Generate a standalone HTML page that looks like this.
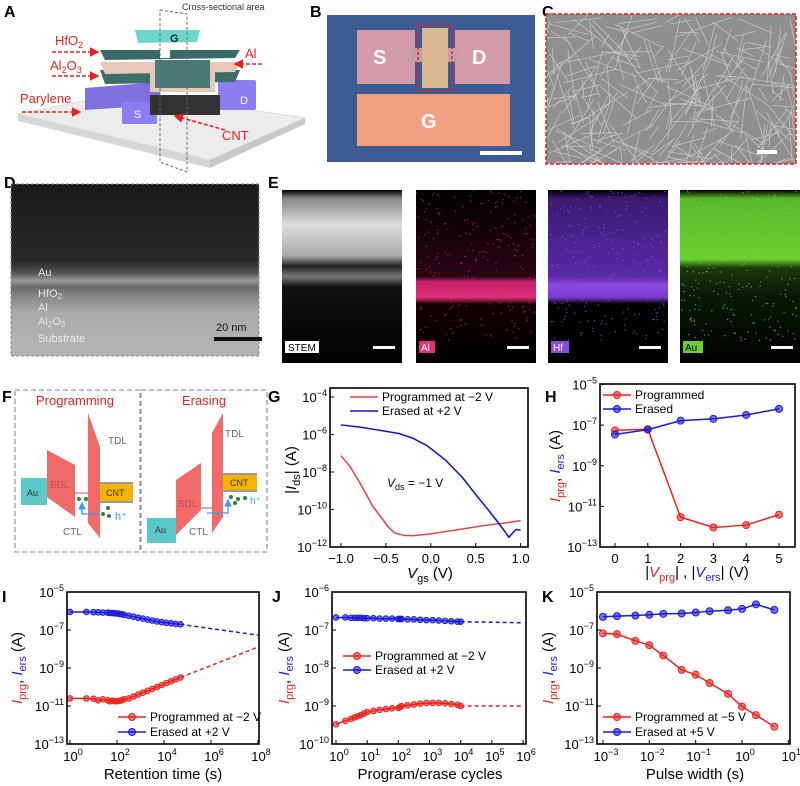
<!DOCTYPE html>
<html><head><meta charset="utf-8">
<style>
html,body{margin:0;padding:0;background:#fff;}
svg{display:block;font-family:"Liberation Sans",Arial,sans-serif;}
</style></head>
<body>
<svg id="fig" width="800" height="786" viewBox="0 0 800 786" xmlns="http://www.w3.org/2000/svg">
<defs>
<marker id="ar" markerWidth="6" markerHeight="6" refX="5" refY="3" orient="auto"><path d="M0,0 L6,3 L0,6 z" fill="#e8231f"/></marker>
<marker id="ab" markerWidth="6" markerHeight="6" refX="5" refY="3" orient="auto"><path d="M0,0 L6,3 L0,6 z" fill="#3aa0e0"/></marker>
<linearGradient id="temg" x1="0" y1="0" x2="0" y2="1">
<stop offset="0" stop-color="#1a1a1a"/><stop offset="0.45" stop-color="#2a2a2a"/><stop offset="0.52" stop-color="#555"/>
<stop offset="0.56" stop-color="#9a9a9a"/><stop offset="0.6" stop-color="#6a6a6a"/><stop offset="0.66" stop-color="#8a8a8a"/>
<stop offset="0.75" stop-color="#aaa"/><stop offset="1" stop-color="#b5b5b5"/></linearGradient>
<linearGradient id="stemg" x1="0" y1="0" x2="0" y2="1">
<stop offset="0" stop-color="#000"/><stop offset="0.05" stop-color="#888"/><stop offset="0.2" stop-color="#ddd"/><stop offset="0.38" stop-color="#aaa"/>
<stop offset="0.44" stop-color="#222"/><stop offset="0.5" stop-color="#777"/><stop offset="0.56" stop-color="#111"/><stop offset="1" stop-color="#000"/></linearGradient>
<linearGradient id="hfg" x1="0" y1="0" x2="0" y2="1">
<stop offset="0" stop-color="#000"/><stop offset="0.05" stop-color="#3a1a70"/><stop offset="0.5" stop-color="#5a2aa8"/><stop offset="0.55" stop-color="#8a4ae0"/><stop offset="0.62" stop-color="#7a3ad0"/><stop offset="0.66" stop-color="#000"/><stop offset="1" stop-color="#000"/></linearGradient>
<linearGradient id="aug" x1="0" y1="0" x2="0" y2="1">
<stop offset="0" stop-color="#000"/><stop offset="0.05" stop-color="#5ab82a"/><stop offset="0.4" stop-color="#6ad030"/><stop offset="0.45" stop-color="#1a3a0a"/><stop offset="0.6" stop-color="#0a1a05"/><stop offset="1" stop-color="#000"/></linearGradient>
<linearGradient id="alg" x1="0" y1="0" x2="0" y2="1">
<stop offset="0" stop-color="#000"/><stop offset="0.5" stop-color="#2a0515"/><stop offset="0.53" stop-color="#c02068"/><stop offset="0.62" stop-color="#e0307a"/><stop offset="0.66" stop-color="#100"/><stop offset="1" stop-color="#000"/></linearGradient>
</defs>

<!-- Panel A -->
<g>
<text x="4" y="17" font-size="16" font-weight="bold">A</text>
<text x="182" y="10" font-size="9" fill="#333">Cross-sectional area</text>
<polygon points="18,114 130,92 305,118 210,160" fill="#ececec" stroke="#ddd"/>
<polygon points="18,114 210,160 210,168 18,121" fill="#d6d6d6"/>
<polygon points="210,160 305,118 305,124 210,168" fill="#c8c8c8"/>
<polygon points="85,88 160,82 160,105 85,110" fill="#7f72e0"/>
<rect x="122" y="102" width="35" height="22" fill="#8a7ef0" rx="2"/>
<text x="134" y="118" font-size="11" fill="#fff">S</text>
<rect x="218" y="80" width="38" height="30" fill="#8a7ef0" rx="2"/>
<text x="240" y="104" font-size="11" fill="#fff">D</text>
<rect x="150" y="95" width="70" height="20" fill="#333"/>
<polygon points="100,70 240,70 235,82 105,84" fill="#3d6e6a"/>
<polygon points="100,62 240,62 235,72 105,74" fill="#e8c8b8"/>
<polygon points="150,62 215,62 215,92 150,92" fill="#e8c8b8"/>
<polygon points="155,60 210,60 210,88 155,88" fill="#4a7a76"/>
<polygon points="100,50 240,50 235,58 105,60" fill="#3a6a66"/>
<rect x="160" y="38" width="10" height="20" fill="#fff"/>
<polygon points="135,30 200,30 197,42 138,43" fill="#6ed6c8"/>
<text x="170" y="42" font-size="11" font-weight="bold" fill="#123">G</text>
<polyline points="160,10 187,14 187,172 160,162 160,10" fill="none" stroke="#666" stroke-dasharray="3,2"/>
<g fill="#e8231f" font-size="13">
<text x="55" y="45">HfO<tspan font-size="9" dy="3">2</tspan></text>
<text x="50" y="70">Al<tspan font-size="9" dy="3">2</tspan><tspan dy="-3">O</tspan><tspan font-size="9" dy="3">3</tspan></text>
<text x="20" y="103">Parylene</text>
<text x="245" y="58">Al</text>
<text x="222" y="140">CNT</text>
</g>
<g stroke="#e8231f" stroke-width="1.6" stroke-dasharray="4,2" marker-end="url(#ar)">
<line x1="52" y1="52" x2="98" y2="52"/><line x1="52" y1="76" x2="98" y2="76"/>
<line x1="22" y1="112" x2="80" y2="112"/><line x1="262" y1="64" x2="235" y2="64"/>
<line x1="225" y1="130" x2="175" y2="116"/></g>
</g>

<!-- Panel B -->
<g>
<text x="310" y="17" font-size="16" font-weight="bold">B</text>
<rect x="327" y="15" width="208" height="147" fill="#3e5c94"/>
<rect x="357" y="30" width="58" height="54" fill="#d39aa8"/>
<rect x="455" y="30" width="55" height="54" fill="#d39aa8"/>
<rect x="412" y="48" width="12" height="14" fill="#c99aa8"/>
<rect x="446" y="48" width="12" height="14" fill="#c99aa8"/>
<rect x="422" y="28" width="26" height="60" fill="#d8b890"/>
<rect x="418" y="25" width="34" height="66" fill="none" stroke="#e8231f" stroke-dasharray="3,2" stroke-width="1.5"/>
<rect x="357" y="94" width="153" height="52" fill="#f0a080"/>
<text x="373" y="64" font-size="20" font-weight="bold" fill="#fff">S</text>
<text x="472" y="64" font-size="20" font-weight="bold" fill="#fff">D</text>
<text x="421" y="128" font-size="20" font-weight="bold" fill="#fff">G</text>
<rect x="480" y="151" width="42" height="4" fill="#fff"/>
</g>

<!-- Panel C -->
<g>
<text x="542" y="17" font-size="16" font-weight="bold">C</text>
<rect x="546" y="14" width="250" height="150" fill="#8f8f8f"/>
<g id="cnts" stroke="#d8d8d8" stroke-width="0.7" opacity="0.8"></g>
<rect x="546" y="14" width="250" height="150" fill="none" stroke="#e8231f" stroke-width="1.5" stroke-dasharray="4,2"/>
<rect x="757" y="150" width="20" height="4" fill="#fff"/>
</g>

<!-- Panel D -->
<g>
<text x="4" y="188" font-size="16" font-weight="bold">D</text>
<rect x="11" y="184" width="248" height="172" fill="url(#temg)" stroke="#888" stroke-dasharray="3,2"/>
<g fill="#e6e6e6" font-size="11">
<text x="38" y="276">Au</text>
<text x="38" y="297">HfO<tspan font-size="8" dy="2">2</tspan></text>
<text x="38" y="311">Al</text>
<text x="38" y="325">Al<tspan font-size="8" dy="2">2</tspan><tspan dy="-2">O</tspan><tspan font-size="8" dy="2">3</tspan></text>
<text x="38" y="342" fill="#f0f0f0">Substrate</text></g>
<text x="216" y="331" font-size="11" fill="#111">20 nm</text>
<rect x="214" y="337" width="48" height="4" fill="#111"/>
</g>

<!-- Panel E -->
<g>
<text x="268" y="188" font-size="16" font-weight="bold">E</text>
<rect x="282" y="190" width="120" height="173" fill="url(#stemg)"/>
<rect x="416" y="190" width="120" height="173" fill="url(#alg)"/>
<rect x="548" y="190" width="120" height="173" fill="url(#hfg)"/>
<rect x="680" y="190" width="120" height="173" fill="url(#aug)"/>
<g id="dots"></g>
<rect x="285" y="341" width="34" height="12" fill="#fff"/><text x="288" y="351" font-size="10">STEM</text>
<rect x="419" y="341" width="16" height="12" fill="#e0307a"/><text x="421" y="351" font-size="10" fill="#fff">Al</text>
<rect x="551" y="341" width="18" height="12" fill="#8a4ae0"/><text x="553" y="351" font-size="10" fill="#fff">Hf</text>
<rect x="683" y="341" width="20" height="12" fill="#6ad030"/><text x="685" y="351" font-size="10" fill="#000">Au</text>
<g fill="#fff"><rect x="373" y="346" width="22" height="3"/><rect x="507" y="346" width="22" height="3"/><rect x="639" y="346" width="22" height="3"/><rect x="771" y="346" width="22" height="3"/></g>
</g>

<!-- Panel F -->
<g>
<text x="2" y="402" font-size="16" font-weight="bold">F</text>
<rect x="15" y="390" width="125" height="162" fill="none" stroke="#999" stroke-dasharray="5,3" stroke-width="1.3"/>
<rect x="141" y="390" width="126" height="162" fill="none" stroke="#999" stroke-dasharray="5,3" stroke-width="1.3"/>
<text x="36" y="405" font-size="13" fill="#e8231f">Programming</text>
<text x="182" y="405" font-size="13" fill="#e8231f">Erasing</text>
<rect x="21" y="478" width="26" height="27" fill="#5ac8c8"/><text x="27" y="496" font-size="9" fill="#333">Au</text>
<polygon points="47,450 75,465 75,517 47,497" fill="#f06a6a"/><text x="50" y="488" font-size="10" fill="#c05050">BDL</text>
<polygon points="88,413 100,447 100,538 88,523" fill="#f06a6a"/>
<line x1="75" y1="493" x2="88" y2="493" stroke="#f0a0c0" stroke-width="2"/>
<rect x="100" y="482" width="33" height="21" fill="#f5b400"/><rect x="100" y="482" width="33" height="2" fill="#999"/><rect x="100" y="501" width="33" height="2" fill="#999"/>
<text x="106" y="496" font-size="9" fill="#333">CNT</text>
<text x="108" y="444" font-size="10" fill="#666">TDL</text><text x="63" y="535" font-size="10" fill="#666">CTL</text>
<g fill="#3a7a3a"><circle cx="79" cy="499" r="2"/><circle cx="86" cy="499" r="2"/><circle cx="108" cy="508" r="2"/><circle cx="103" cy="514" r="2"/><circle cx="109" cy="516" r="2"/></g>
<polyline points="100,514 82,514 82,503" fill="none" stroke="#3aa0e0" stroke-width="1.3" marker-end="url(#ab)"/>
<text x="115" y="520" font-size="11" fill="#3aa0e0">h⁺</text>
<rect x="147" y="518" width="29" height="25" fill="#5ac8c8"/><text x="155" y="533" font-size="9" fill="#333">Au</text>
<polygon points="176,480 201,463 201,510 176,535" fill="#f06a6a"/><text x="178" y="507" font-size="10" fill="#c05050">BDL</text>
<polygon points="212,433 223,413 223,517 212,533" fill="#f06a6a"/>
<line x1="201" y1="508" x2="212" y2="508" stroke="#f0a0c0" stroke-width="2"/>
<rect x="223" y="473" width="34" height="19" fill="#f5b400"/><rect x="223" y="473" width="34" height="2" fill="#999"/><rect x="223" y="490" width="34" height="2" fill="#999"/>
<text x="230" y="486" font-size="9" fill="#333">CNT</text>
<text x="225" y="437" font-size="10" fill="#666">TDL</text><text x="189" y="535" font-size="10" fill="#666">CTL</text>
<g fill="#3a7a3a"><circle cx="231" cy="497" r="2"/><circle cx="238" cy="499" r="2"/><circle cx="245" cy="498" r="2"/><circle cx="235" cy="503" r="2"/></g>
<polyline points="207,513 228,513 228,500" fill="none" stroke="#3aa0e0" stroke-width="1.3" marker-end="url(#ab)"/>
<text x="250" y="504" font-size="10" fill="#3aa0e0">h⁺</text>
</g>

<g id="charts"></g>
</svg>

<script>
// ---------- Chart data ----------
// G: transfer curves (Vgs in V, log10 |Ids|)
const gPrgV = [-1,-0.9,-0.8,-0.74,-0.65,-0.54,-0.47,-0.4,-0.3,-0.2,0,0.2,0.43,0.6,0.81,1.0];
const gPrgLog = [-7.13,-7.7,-8.5,-9.0,-9.8,-10.5,-10.95,-11.25,-11.38,-11.4,-11.3,-11.15,-10.98,-10.85,-10.73,-10.6];
const gErsV = [-1,-0.8,-0.6,-0.35,-0.2,-0.04,0.16,0.35,0.5,0.66,0.78,0.87,0.92,0.95,1.0];
const gErsLog = [-5.49,-5.6,-5.75,-5.95,-6.2,-6.6,-7.35,-8.28,-9.2,-10.14,-10.88,-11.48,-11.2,-11.07,-11.1];
const gXTicks = [-1.0,-0.5,0.0,0.5,1.0];
const gXTickLabels = ["\u22121.0","\u22120.5","0.0","0.5","1.0"];
const gYTicks = [-4,-6,-8,-10,-12];
// H: voltage dependence
const hV = [0,1,2,3,4,5];
const hPrgLog = [-7.26,-7.2,-11.53,-12.04,-11.92,-11.41];
const hErsLog = [-7.46,-7.22,-6.78,-6.69,-6.5,-6.2];
const hYTicks = [-5,-7,-9,-11,-13];
// I: retention
const iLogT = [0,0.7,1.0,1.2,1.4,1.6,1.7,1.8,1.9,2.0,2.1,2.2,2.3,2.5,2.7,2.9,3.1,3.3,3.5,3.7,3.9,4.1,4.3,4.5,4.7];
const iErsLog = [-6.05,-6.05,-6.06,-6.07,-6.08,-6.09,-6.1,-6.11,-6.12,-6.13,-6.15,-6.17,-6.2,-6.25,-6.3,-6.35,-6.4,-6.45,-6.5,-6.55,-6.59,-6.62,-6.65,-6.68,-6.7];
const iPrgLog = [-10.6,-10.6,-10.62,-10.7,-10.65,-10.7,-10.75,-10.72,-10.75,-10.75,-10.73,-10.7,-10.65,-10.6,-10.5,-10.4,-10.3,-10.2,-10.1,-10.0,-9.9,-9.8,-9.7,-9.6,-9.5];
const iExtrapT = [4.7,8];
const iErsExtrap = [-6.7,-7.27];
const iPrgExtrap = [-9.5,-7.9];
const iXTicks = [0,2,4,6,8];
const iYTicks = [-5,-7,-9,-11,-13];
// J: endurance
const jLogN = [0,0.3,0.48,0.6,0.7,0.8,0.9,1,1.2,1.4,1.6,1.8,2,2.05,2.1,2.3,2.5,2.7,2.9,3.1,3.3,3.5,3.7,3.9,4];
const jPrgLog = [-9.48,-9.39,-9.34,-9.3,-9.27,-9.24,-9.2,-9.16,-9.13,-9.1,-9.08,-9.06,-9.05,-9.03,-9.0,-8.98,-8.96,-8.94,-8.92,-8.92,-8.92,-8.93,-8.95,-8.97,-9.0];
const jErsLog = [-6.67,-6.67,-6.68,-6.68,-6.68,-6.68,-6.69,-6.69,-6.69,-6.7,-6.7,-6.7,-6.71,-6.71,-6.71,-6.72,-6.72,-6.73,-6.74,-6.74,-6.75,-6.76,-6.77,-6.78,-6.78];
const jExtrapN = [4,6];
const jErsExtrap = [-6.78,-6.81];
const jPrgExtrap = [-9.0,-9.0];
const jXTicks = [0,1,2,3,4,5,6];
const jYTicks = [-6,-7,-8,-9,-10];
// K: pulse width
const kLogW = [-3,-2.699,-2.301,-2,-1.699,-1.301,-1,-0.699,-0.301,0,0.301,0.699];
const kErsLog = [-6.31,-6.27,-6.24,-6.2,-6.15,-6.13,-6.08,-6.01,-5.96,-5.89,-5.65,-5.94];
const kPrgLog = [-7.18,-7.22,-7.57,-7.8,-8.34,-9.1,-9.35,-9.79,-10.36,-11.03,-11.48,-12.09];
const kXTicks = [-3,-2,-1,0,1];
const kYTicks = [-5,-7,-9,-11,-13];

const NS = "http://www.w3.org/2000/svg";
const root = document.getElementById('charts');
const RED = "#e8231f", BLUE = "#1a1ad8";
function mk(tag, attrs, parent){ const e=document.createElementNS(NS,tag); for(const k in attrs) e.setAttribute(k,attrs[k]); (parent||root).appendChild(e); return e; }
function scale(d0,d1,r0,r1){ return v => r0 + (v-d0)/(d1-d0)*(r1-r0); }
function supLabel(g, x, y, exp, anchor){
  const t = mk('text',{x:x,y:y,'font-size':13,'text-anchor':anchor},g);
  
  
  t.appendChild(document.createTextNode('10'));
  const s = mk('tspan',{'font-size':9,dy:-6},t);
  s.textContent = exp < 0 ? '\u2212'+(-exp) : String(exp);
  return t;
}
function frame(g, b){
  const r = mk('rect',{x:b.x0,y:b.y0,width:b.x1-b.x0,height:b.y1-b.y0,fill:'none',stroke:'#000','stroke-width':1.6},g);
  
  
}
function line(g, xs, ys, sx, sy, color, dash, name){
  const p = mk('polyline',{points:xs.map((x,i)=>sx(x)+','+sy(ys[i])).join(' '),fill:'none',stroke:color,'stroke-width':1.5},g);
  if(dash) p.setAttribute('stroke-dasharray',dash);
  
  
}
function markers(g, xs, ys, sx, sy, color, r, name){
  xs.forEach((x,i)=>{
    const c = mk('circle',{cx:sx(x),cy:sy(ys[i]),r:r,fill:color,stroke:color,'fill-opacity':0.6},g);
    
    
  });
}
function yLogTicks(g, b, sy, ticks){
  ticks.forEach(v=>{
    mk('line',{x1:b.x0,x2:b.x0+4,y1:sy(v),y2:sy(v),stroke:'#000'},g);
    supLabel(g, b.x0-3, sy(v)+5, v, 'end');
  });
}
function xLogTicks(g, b, sx, ticks){
  ticks.forEach(v=>{
    mk('line',{x1:sx(v),x2:sx(v),y1:b.y1,y2:b.y1-4,stroke:'#000'},g);
    supLabel(g, sx(v)+3, b.y1+17, v, 'middle');
  });
}
function ylabel(g, x, y, extra){
  const t = mk('text',{x:x,y:y,'font-size':15,'text-anchor':'middle',transform:'rotate(-90 '+x+' '+y+')'},g);
  
  
  if(extra){ t.innerHTML = extra; }
  return t;
}
const IPI = '<tspan fill="'+RED+'" font-style="italic">I</tspan><tspan fill="'+RED+'" font-size="11" dy="4">prg</tspan><tspan dy="-4">, </tspan><tspan fill="'+BLUE+'" font-style="italic">I</tspan><tspan fill="'+BLUE+'" font-size="11" dy="4">ers</tspan><tspan dy="-4"> (A)</tspan>';
function legend(g, x, y, color, label, withMarker){
  mk('line',{x1:x,x2:x+28,y1:y,y2:y,stroke:color,'stroke-width':1.5},g);
  if(withMarker){ mk('circle',{cx:x+14,cy:y,r:3.5,fill:color,'fill-opacity':0.6,stroke:color},g); }
  const t = mk('text',{x:x+32,y:y+4,'font-size':12},g);
  t.textContent = label;
  
  
}
function panelLetter(g,x,y,l){ const t=mk('text',{x:x,y:y,'font-size':16,'font-weight':'bold'},g); t.textContent=l;   }

// ----- G -----
(function(){
  const g = mk('g',{});
  
  
  const b={x0:330,x1:528,y0:388,y1:547};
  const sx=scale(-1,1,341,520.6), sy=scale(-4,-12,397,547);
  panelLetter(g,268,402,'G');
  line(g,gPrgV,gPrgLog,sx,sy,"#e84040",null,'programmed-curve');
  line(g,gErsV,gErsLog,sx,sy,"#1010c8",null,'erased-curve');
  frame(g,b);
  yLogTicks(g,b,sy,gYTicks);
  gXTicks.forEach((v,i)=>{ mk('line',{x1:sx(v),x2:sx(v),y1:b.y1,y2:b.y1-4,stroke:'#000'},g);
    const t=mk('text',{x:sx(v),y:b.y1+16,'font-size':13,'text-anchor':'middle'},g); t.textContent=gXTickLabels[i];
      });
  legend(g,350,397,"#e84040","Programmed at \u22122 V",false);
  legend(g,350,411,"#1010c8","Erased at +2 V",false);
  const a=mk('text',{x:387,y:487,'font-size':12},g); a.innerHTML='<tspan font-style="italic">V</tspan><tspan font-size="9" dy="3">ds</tspan><tspan dy="-3"> = \u22121 V</tspan>';
  const yl=ylabel(g,296,470); yl.innerHTML='|<tspan font-style="italic">I</tspan><tspan font-size="11" dy="4">ds</tspan><tspan dy="-4">| (A)</tspan>';
  const xl=mk('text',{x:430,y:578,'font-size':15,'text-anchor':'middle'},g); xl.innerHTML='<tspan font-style="italic">V</tspan><tspan font-size="11" dy="4">gs</tspan><tspan dy="-4"> (V)</tspan>';
   
})();

// ----- H -----
(function(){
  const g = mk('g',{});
  
  
  const b={x0:600,x1:795,y0:384,y1:547};
  const sx=scale(0,5,615,779), sy=scale(-5,-13,384.5,547);
  panelLetter(g,545,402,'H');
  line(g,hV,hPrgLog,sx,sy,RED,null,'programmed-line'); markers(g,hV,hPrgLog,sx,sy,RED,3.5,'programmed-point');
  line(g,hV,hErsLog,sx,sy,BLUE,null,'erased-line'); markers(g,hV,hErsLog,sx,sy,BLUE,3.5,'erased-point');
  frame(g,b);
  yLogTicks(g,b,sy,hYTicks);
  hV.forEach(v=>{ mk('line',{x1:sx(v),x2:sx(v),y1:b.y1,y2:b.y1-4,stroke:'#000'},g);
    const t=mk('text',{x:sx(v),y:b.y1+16,'font-size':13,'text-anchor':'middle'},g); t.textContent=String(v);
      });
  legend(g,603,395,RED,"Programmed",true);
  legend(g,603,409,BLUE,"Erased",true);
  ylabel(g,560,466,IPI);
  const xl=mk('text',{x:697,y:577,'font-size':15,'text-anchor':'middle'},g);
  xl.innerHTML='|<tspan fill="'+RED+'" font-style="italic">V</tspan><tspan fill="'+RED+'" font-size="11" dy="4">prg</tspan><tspan dy="-4">| , |</tspan><tspan fill="'+BLUE+'" font-style="italic">V</tspan><tspan fill="'+BLUE+'" font-size="11" dy="4">ers</tspan><tspan dy="-4">| (V)</tspan>';
   
})();

// ----- I -----
(function(){
  const g = mk('g',{});
  
  
  const b={x0:67,x1:259,y0:592,y1:744};
  const sx=scale(0,8,70,258), sy=scale(-5,-13,592,744);
  panelLetter(g,2,602,'I');
  line(g,iExtrapT,iErsExtrap,sx,sy,BLUE,'4,3','erased-extrapolation');
  line(g,iExtrapT,iPrgExtrap,sx,sy,RED,'4,3','programmed-extrapolation');
  line(g,iLogT,iErsLog,sx,sy,BLUE,null,'erased-line'); markers(g,iLogT,iErsLog,sx,sy,BLUE,2.8,'erased-point');
  line(g,iLogT,iPrgLog,sx,sy,RED,null,'programmed-line'); markers(g,iLogT,iPrgLog,sx,sy,RED,2.8,'programmed-point');
  frame(g,b);
  yLogTicks(g,b,sy,iYTicks); xLogTicks(g,b,sx,iXTicks);
  legend(g,118,717,RED,"Programmed at \u22122 V",true);
  legend(g,118,732,BLUE,"Erased at +2 V",true);
  ylabel(g,22,668,IPI);
  const xl=mk('text',{x:163,y:779,'font-size':15,'text-anchor':'middle'},g); xl.textContent='Retention time (s)';
   
})();

// ----- J -----
(function(){
  const g = mk('g',{});
  
  
  const b={x0:332,x1:526,y0:592,y1:744};
  const sx=scale(0,6,336,523), sy=scale(-6,-10,592,744);
  panelLetter(g,272,602,'J');
  line(g,jExtrapN,jErsExtrap,sx,sy,BLUE,'4,3','erased-extrapolation');
  line(g,jExtrapN,jPrgExtrap,sx,sy,RED,'4,3','programmed-extrapolation');
  line(g,jLogN,jErsLog,sx,sy,BLUE,null,'erased-line'); markers(g,jLogN,jErsLog,sx,sy,BLUE,2.8,'erased-point');
  line(g,jLogN,jPrgLog,sx,sy,RED,null,'programmed-line'); markers(g,jLogN,jPrgLog,sx,sy,RED,2.8,'programmed-point');
  frame(g,b);
  yLogTicks(g,b,sy,jYTicks); xLogTicks(g,b,sx,jXTicks);
  legend(g,343,656,RED,"Programmed at \u22122 V",true);
  legend(g,343,670,BLUE,"Erased at +2 V",true);
  ylabel(g,289,668,IPI);
  const xl=mk('text',{x:430,y:779,'font-size':15,'text-anchor':'middle'},g); xl.textContent='Program/erase cycles';
   
})();

// ----- K -----
(function(){
  const g = mk('g',{});
  
  
  const b={x0:597,x1:790,y0:592,y1:744};
  const sx=scale(-3,0,603,742), sy=scale(-5,-13,592,744);
  panelLetter(g,542,602,'K');
  line(g,kLogW,kErsLog,sx,sy,BLUE,null,'erased-line'); markers(g,kLogW,kErsLog,sx,sy,BLUE,3.5,'erased-point');
  line(g,kLogW,kPrgLog,sx,sy,RED,null,'programmed-line'); markers(g,kLogW,kPrgLog,sx,sy,RED,3.5,'programmed-point');
  frame(g,b);
  yLogTicks(g,b,sy,kYTicks); xLogTicks(g,b,sx,kXTicks);
  legend(g,603,717,RED,"Programmed at \u22125 V",true);
  legend(g,603,732,BLUE,"Erased at +5 V",true);
  ylabel(g,553,668,IPI);
  const xl=mk('text',{x:695,y:779,'font-size':15,'text-anchor':'middle'},g); xl.textContent='Pulse width (s)';
   
})();

// ----- decorative textures (not chart data) -----
(function(){
  let s = 12345; const rnd=()=>{ s=(s*1103515245+12345)%2147483648; return s/2147483648; };
  const cg=document.getElementById('cnts');
  for(let i=0;i<260;i++){
    const x=546+rnd()*250, y=14+rnd()*150, a=rnd()*Math.PI, L=15+rnd()*45;
    const l=document.createElementNS(NS,'line');
    l.setAttribute('x1',Math.max(546,Math.min(796,x))); l.setAttribute('y1',Math.max(14,Math.min(164,y)));
    l.setAttribute('x2',Math.max(546,Math.min(796,x+Math.cos(a)*L))); l.setAttribute('y2',Math.max(14,Math.min(164,y+Math.sin(a)*L)));
    cg.appendChild(l);
  }
  const dg=document.getElementById('dots');
  const tiles=[[416,'#e0307a',200,283,0.15],[548,'#9a5af0',200,298,0.3],[680,'#7ae040',195,265,0.5]];
  tiles.forEach(t=>{
    for(let i=0;i<220;i++){
      const c=document.createElementNS(NS,'rect');
      c.setAttribute('x',t[0]+rnd()*118); c.setAttribute('y',190+rnd()*150);
      c.setAttribute('width',1.2); c.setAttribute('height',1.2); c.setAttribute('fill',t[1]); c.setAttribute('opacity',0.7);
      dg.appendChild(c);
    }
  });
})();
</script>
</body></html>
